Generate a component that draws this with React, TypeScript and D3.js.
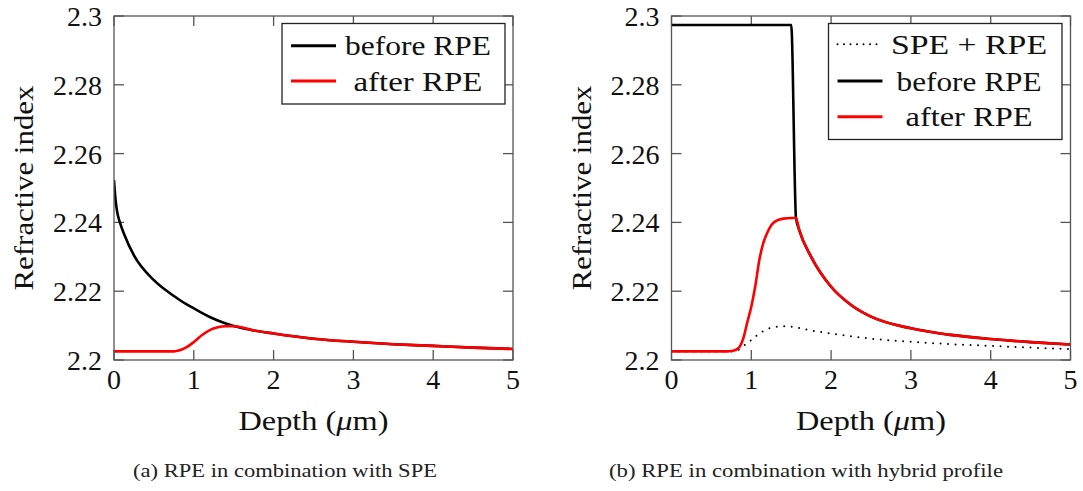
import React from "react";
import * as d3 from "d3";

// ---------- data ----------
const xTicks = [0, 1, 2, 3, 4, 5];
const yTicks = [2.2, 2.22, 2.24, 2.26, 2.28, 2.3];
const yTickLabels = ["2.2", "2.22", "2.24", "2.26", "2.28", "2.3"];

// panel (a)
const leftDepth = [0, 0.02, 0.04, 0.07, 0.13, 0.25, 0.5, 0.75, 0.8, 0.9, 1, 1.1, 1.2, 1.3, 1.4, 1.5, 1.75, 2, 2.5, 3, 3.5, 4, 4.5, 5];
const leftBefore = [2.2523, 2.2465, 2.243, 2.2403, 2.2364, 2.2304, 2.2232, 2.2186, 2.2178, 2.2163, 2.215, 2.2137, 2.2125, 2.2115, 2.2106, 2.2099, 2.2086, 2.2077, 2.2062, 2.2053, 2.2046, 2.2041, 2.2036, 2.2032];
const leftAfter = [2.2025, 2.2025, 2.2025, 2.2025, 2.2025, 2.2025, 2.2025, 2.2025, 2.2027, 2.2036, 2.2052, 2.2072, 2.2087, 2.2095, 2.2098, 2.2098, 2.2086, 2.2077, 2.2062, 2.2053, 2.2046, 2.2041, 2.2036, 2.2032];

// panel (b)
const rightDepth = [0, 0.7, 0.75, 0.8, 0.85, 0.9, 0.95, 1, 1.05, 1.1, 1.15, 1.2, 1.25, 1.3, 1.4, 1.5, 1.56, 1.6, 1.75, 2, 2.25, 2.5, 3, 3.5, 4, 4.5, 5];
const rightSpeRpe = [2.2025, 2.2025, 2.2025, 2.2027, 2.2031, 2.204, 2.2049, 2.2058, 2.2068, 2.2077, 2.2084, 2.209, 2.2094, 2.2096, 2.2098, 2.2097, 2.2095, 2.2093, 2.2086, 2.2077, 2.2069, 2.2062, 2.2053, 2.2046, 2.2041, 2.2036, 2.2032];
const rightBefore = [2.2974, 2.2974, 2.2974, 2.2974, 2.2974, 2.2974, 2.2974, 2.2974, 2.2974, 2.2974, 2.2974, 2.2974, 2.2974, 2.2974, 2.2974, 2.2974, 2.2413, 2.2378, 2.23, 2.2213, 2.216, 2.2126, 2.2092, 2.2073, 2.2061, 2.2052, 2.2045];
const rightAfter = [2.2025, 2.2025, 2.2026, 2.2029, 2.2037, 2.2063, 2.211, 2.2155, 2.2215, 2.229, 2.234, 2.237, 2.2392, 2.2403, 2.2411, 2.2413, 2.2413, 2.2378, 2.23, 2.2213, 2.216, 2.2126, 2.2092, 2.2073, 2.2061, 2.2052, 2.2045];

const FONT = "Liberation Serif";

type Series = { name: string; values: number[]; color: string; dotted?: boolean; textW: number };

type PanelProps = {
  x0: number;
  depth: number[];
  series: Series[];
  legend: Series[];
  legendBox: { x: number; y: number; w: number; h: number; rows: number[]; cx: number };
  caption: string;
  captionCx: number;
  captionW: number;
};

const Y_TOP = 16;
const Y_BOT = 360;
const PLOT_W = 399;

function Panel(p: PanelProps) {
  const x = d3.scaleLinear().domain([0, 5]).range([p.x0, p.x0 + PLOT_W]);
  const y = d3.scaleLinear().domain([2.2, 2.3]).range([Y_BOT, Y_TOP]);
  const line = (vals: number[]) =>
    d3
      .line<number>()
      .x((_, i) => x(p.depth[i]))
      .y((v) => y(v))
      .curve(d3.curveMonotoneX)(vals) || "";
  const frame = "#555";
  const tickLen = 10;
  const xm = (x(0) + x(5)) / 2;
  const ym = (Y_TOP + Y_BOT) / 2;
  return (
    <g>
      <defs>
        <clipPath id={`clip${p.x0}`}>
          <rect x={x(0)} y={Y_TOP} width={PLOT_W} height={Y_BOT - Y_TOP} />
        </clipPath>
      </defs>
      {xTicks.map((t) => (
        <g key={"xt" + t}>
          <line x1={x(t)} x2={x(t)} y1={Y_BOT} y2={Y_BOT - tickLen} stroke={frame} strokeWidth={1.3} />
          <line x1={x(t)} x2={x(t)} y1={Y_TOP} y2={Y_TOP + tickLen} stroke={frame} strokeWidth={1.3} />
          <text x={x(t)} y={389} textAnchor="middle" fontFamily={FONT} fontSize={28} fill="#111">
            {t}
          </text>
        </g>
      ))}
      {yTicks.map((t, i) => (
        <g key={"yt" + t}>
          <line x1={x(0)} x2={x(0) + tickLen} y1={y(t)} y2={y(t)} stroke={frame} strokeWidth={1.3} />
          <line x1={x(5)} x2={x(5) - tickLen} y1={y(t)} y2={y(t)} stroke={frame} strokeWidth={1.3} />
          <text x={x(0) - 12} y={y(t) + 10} textAnchor="end" fontFamily={FONT} fontSize={28} fill="#111">
            {yTickLabels[i]}
          </text>
        </g>
      ))}
      <g clipPath={`url(#clip${p.x0})`}>
        {p.series.map((s) => (
          <path
            key={s.name}
            d={line(s.values)}
            fill="none"
            stroke={s.color}
            strokeWidth={s.dotted ? 2 : 2.6}
            strokeDasharray={s.dotted ? "0 7.5" : undefined}
            strokeLinecap={s.dotted ? "round" : "butt"}
            strokeLinejoin="round"
          />
        ))}
      </g>
      <rect x={x(0)} y={Y_TOP} width={PLOT_W} height={Y_BOT - Y_TOP} fill="none" stroke={frame} strokeWidth={1.3} />
      <rect
        x={p.legendBox.x}
        y={p.legendBox.y}
        width={p.legendBox.w}
        height={p.legendBox.h}
        fill="white"
        stroke="#222"
        strokeWidth={1.3}
      />
      {p.legend.map((s, i) => {
        const ry = p.legendBox.rows[i];
        const lx = p.legendBox.x + 9;
        return (
          <g key={"lg" + s.name}>
            <line
              x1={lx}
              x2={lx + 45}
              y1={ry}
              y2={ry}
              stroke={s.color}
              strokeWidth={s.dotted ? 2 : 3}
              strokeDasharray={s.dotted ? "0 6.5" : undefined}
              strokeLinecap={s.dotted ? "round" : "butt"}
            />
            <text
              x={p.legendBox.cx}
              y={ry + 9.5}
              textAnchor="middle"
              fontFamily={FONT}
              fontSize={28}
              fill="#111"
              textLength={s.textW}
              lengthAdjust="spacingAndGlyphs"
            >
              {s.name}
            </text>
          </g>
        );
      })}
      <text
        x={xm}
        y={430}
        textAnchor="middle"
        fontFamily={FONT}
        fontSize={28}
        fill="#111"
        textLength={150}
        lengthAdjust="spacingAndGlyphs"
      >
        Depth (<tspan fontStyle="italic">μ</tspan>m)
      </text>
      <text
        transform={`translate(${p.x0 - 81},${ym}) rotate(-90)`}
        textAnchor="middle"
        fontFamily={FONT}
        fontSize={28}
        fill="#111"
        textLength={205}
        lengthAdjust="spacingAndGlyphs"
      >
        Refractive index
      </text>
      <text
        x={p.captionCx}
        y={477}
        textAnchor="middle"
        fontFamily={FONT}
        fontSize={19}
        fill="#222"
        textLength={p.captionW}
        lengthAdjust="spacingAndGlyphs"
      >
        {p.caption}
      </text>
    </g>
  );
}

export default function App() {
  const lBefore: Series = { name: "before RPE", values: leftBefore, color: "#000", textW: 146 };
  const lAfter: Series = { name: "after RPE", values: leftAfter, color: "#ff0000", textW: 129 };
  const rSpe: Series = { name: "SPE + RPE", values: rightSpeRpe, color: "#000", dotted: true, textW: 156 };
  const rBefore: Series = { name: "before RPE", values: rightBefore, color: "#000", textW: 145 };
  const rAfter: Series = { name: "after RPE", values: rightAfter, color: "#ff0000", textW: 127 };
  return (
    <svg
      width={1083}
      height={491}
      style={{ position: "absolute", left: 0, top: 0, background: "white" }}
    >
      <rect x={0} y={0} width={1083} height={491} fill="white" />
      <Panel
        x0={114}
        depth={leftDepth}
        series={[lBefore, lAfter]}
        legend={[lBefore, lAfter]}
        legendBox={{ x: 282, y: 23.5, w: 223, h: 80.5, rows: [45.7, 81], cx: 418 }}
        caption="(a) RPE in combination with SPE"
        captionCx={285}
        captionW={304}
      />
      <Panel
        x0={671.5}
        depth={rightDepth}
        series={[rSpe, rBefore, rAfter]}
        legend={[rSpe, rBefore, rAfter]}
        legendBox={{ x: 828.5, y: 23.5, w: 233.5, h: 116, rows: [44.3, 81, 116.7], cx: 969 }}
        caption="(b) RPE in combination with hybrid profile"
        captionCx={806}
        captionW={394}
      />
    </svg>
  );
}
